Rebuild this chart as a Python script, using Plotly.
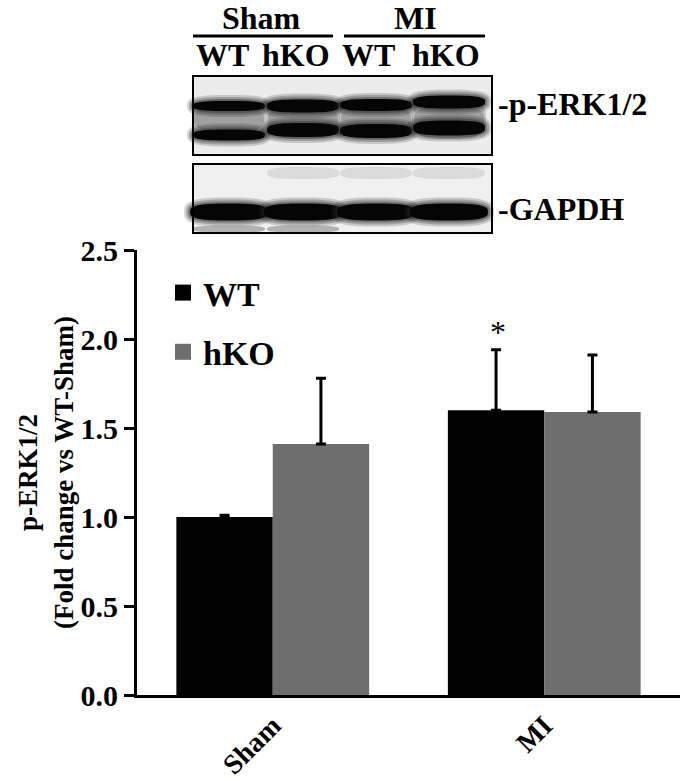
import numpy as np
import plotly.graph_objects as go

# ---------------- data ----------------
categories = ["Sham", "MI"]
wt_values = [1.00, 1.60]
hko_values = [1.41, 1.59]
wt_errors = [0.01, 0.34]
hko_errors = [0.37, 0.32]
series_names = ["WT", "hKO"]
y_ticks = [0.0, 0.5, 1.0, 1.5, 2.0, 2.5]

FONT = "Liberation Serif, Times New Roman, serif"
W, H = 680, 783
L, R, T, B = 137, 0, 250, 88
PW, PH = W - L - R, H - T - B


def X(px):
    return (px - L) / PW


def Y(py):
    return (H - B - py) / PH


fig = go.Figure()

fig.add_trace(go.Bar(
    x=categories, y=wt_values, name=series_names[0],
    marker=dict(color="#000000", line=dict(width=0)),
    error_y=dict(type="data", symmetric=False, array=wt_errors,
                 arrayminus=[0] * len(wt_errors), color="#000000",
                 thickness=3, width=5),
    legendgroup="wt", showlegend=False,
))
fig.add_trace(go.Bar(
    x=categories, y=hko_values, name=series_names[1],
    marker=dict(color="#6e6e6e", line=dict(width=0)),
    error_y=dict(type="data", symmetric=False, array=hko_errors,
                 arrayminus=[0] * len(hko_errors), color="#000000",
                 thickness=3, width=5),
    legendgroup="hko", showlegend=False,
))
# legend entries (square symbols)
fig.add_trace(go.Scatter(x=[None], y=[None], mode="markers", name=series_names[0],
                         marker=dict(symbol="square", size=19, color="#000000"),
                         legendgroup="wt", showlegend=True))
fig.add_trace(go.Scatter(x=[None], y=[None], mode="markers", name=series_names[1],
                         marker=dict(symbol="square", size=19, color="#6e6e6e"),
                         legendgroup="hko", showlegend=True))

shapes = []
annotations = []


def band_path(cx, cy, w, h, n=3.0, npts=48):
    t = np.linspace(0, 2 * np.pi, npts, endpoint=False)
    c, s = np.cos(t), np.sin(t)
    xs = cx + (w / 2) * np.sign(c) * np.abs(c) ** (2 / n)
    ys = cy + (h / 2) * np.sign(s) * np.abs(s) ** (2 / n)
    pts = [f"{X(a):.5f},{Y(b):.5f}" for a, b in zip(xs, ys)]
    return "M" + " L".join(pts) + " Z"


def add_band(cx, cy, w, h, color, opacity=1.0, n=3.0):
    shapes.append(dict(type="path", xref="paper", yref="paper",
                       path=band_path(cx, cy, w, h, n), fillcolor=color,
                       opacity=opacity, line=dict(width=0), layer="above"))


def soft_band(cx, cy, w, h, core="#050505"):
    for grow, op in [(12, 0.18), (8, 0.25), (4, 0.35)]:
        add_band(cx, cy, w + grow, h + grow, "#222222", op)
    add_band(cx, cy, w, h, core, 1.0)


def add_rect(x0, y0, x1, y1, fill=None, line_w=0, line_c="#000000"):
    d = dict(type="rect", xref="paper", yref="paper",
             x0=X(x0), x1=X(x1), y0=Y(y1), y1=Y(y0), layer="above",
             line=dict(width=line_w, color=line_c))
    d["fillcolor"] = fill if fill else "rgba(0,0,0,0)"
    shapes.append(d)


def add_line(x0, y0, x1, y1, w=3):
    shapes.append(dict(type="line", xref="paper", yref="paper",
                       x0=X(x0), x1=X(x1), y0=Y(y0), y1=Y(y1), layer="above",
                       line=dict(width=w, color="#000000")))


def add_text(txt, px, py, size=32, anchor="center", weight="bold"):
    annotations.append(dict(text=txt, xref="paper", yref="paper", x=X(px), y=Y(py),
                            xanchor=anchor, yanchor="middle", showarrow=False,
                            font=dict(family=FONT, size=size, color="#000000", weight=weight)))


# ---- western blot panel 1 (p-ERK1/2) ----
lanes = [229, 303, 376, 449]
add_rect(193, 76, 492, 155, fill="#ececec")
for cx in lanes:
    add_band(cx, 119, 74, 40, "#8c8c8c", 0.45)
    add_band(cx, 119, 70, 26, "#7a7a7a", 0.45)
up_y = [106, 106, 105, 102]
lo_y = [135, 130, 131, 128]
up_h = [10, 13, 12, 13]
lo_h = [11, 14, 14, 15]
for cx, uy, ly, uh, lh in zip(lanes, up_y, lo_y, up_h, lo_h):
    soft_band(cx, uy, 72, uh)
    soft_band(cx, ly, 72, lh)
add_rect(193, 76, 492, 155, line_w=2)

# ---- western blot panel 2 (GAPDH) ----
add_rect(193, 164, 492, 233, fill="#f0f0f0")
for cx in lanes[1:]:
    add_band(cx, 173, 72, 12, "#d2d2d2", 0.7)
for cx in lanes[:2]:
    add_band(cx, 229, 72, 7, "#8a8a8a", 0.6)
for cx in lanes:
    soft_band(cx, 212, 78, 17)
add_rect(193, 164, 492, 233, line_w=2)

# ---- blot header ----
add_text("Sham", 261, 18)
add_text("MI", 415, 18)
add_line(193, 36, 333, 36)
add_line(344, 36, 485, 36)
for txt, px in zip(["WT", "hKO", "WT", "hKO"], [222, 296, 368, 446]):
    add_text(txt, px, 55)
add_text("-p-ERK1/2", 496, 104, anchor="left")
add_text("-GAPDH", 496, 209, anchor="left")

# ---- significance star ----
annotations.append(dict(text="*", x="MI", xshift=-46, xref="x", yref="paper",
                        y=Y(332), xanchor="center", yanchor="middle", showarrow=False,
                        font=dict(family=FONT, size=32, color="#000000")))

fig.update_layout(
    width=W, height=H,
    margin=dict(l=L, r=R, t=T, b=B, autoexpand=False),
    paper_bgcolor="white", plot_bgcolor="white",
    barmode="group", bargap=0.29, bargroupgap=0,
    font=dict(family=FONT, color="#000000"),
    showlegend=True,
    legend=dict(x=X(163), y=Y(264), xanchor="left", yanchor="top",
                bgcolor="rgba(0,0,0,0)", tracegroupgap=12,
                font=dict(family=FONT, size=34, color="#000000", weight="bold")),
    shapes=shapes, annotations=annotations,
)
fig.update_xaxes(
    showline=True, linewidth=3, linecolor="#000000", ticks="",
    tickangle=-45, showgrid=False, zeroline=False, ticklabelstandoff=0,
    tickfont=dict(family=FONT, size=28, color="#000000", weight="bold"),
)
fig.update_yaxes(
    range=[0, 2.5], tickvals=y_ticks, tickformat=".1f",
    showline=True, linewidth=3, linecolor="#000000",
    ticks="outside", ticklen=10, tickwidth=3, tickcolor="#000000",
    ticklabelstandoff=0, showgrid=False, zeroline=False,
    tickfont=dict(family=FONT, size=30, color="#000000", weight="bold"),
    title=dict(text="p-ERK1/2<br>(Fold change vs WT-Sham)", standoff=0,
               font=dict(family=FONT, size=27, color="#000000", weight="bold")),
)

fig.write_html(
    "out.html",
    config={"displayModeBar": False},
    post_script="document.body.style.margin='0';document.body.style.padding='0';"
                "document.documentElement.style.overflow='hidden';",
)
